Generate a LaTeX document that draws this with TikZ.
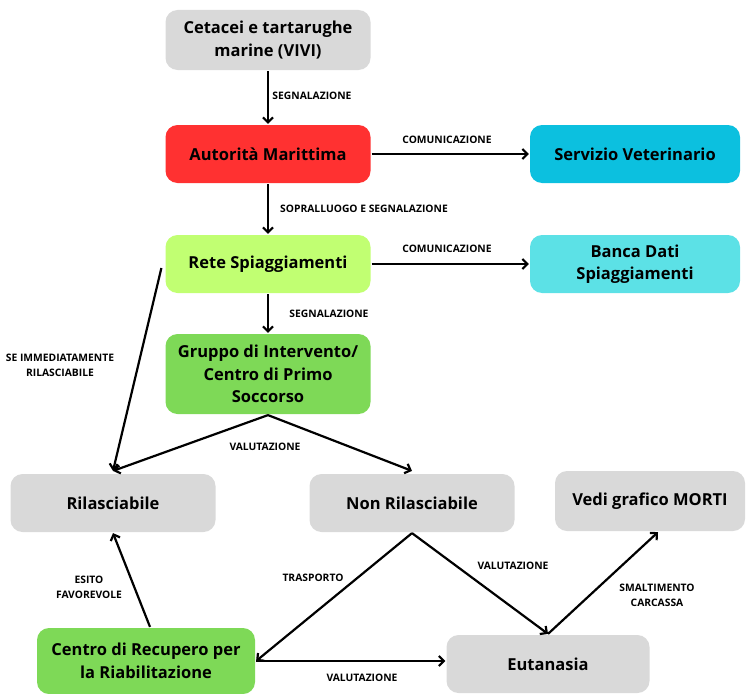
\documentclass[tikz,border=0pt]{standalone}
\usepackage{fontspec}
\setmainfont{Open Sans}
\usetikzlibrary{arrows.meta}
\definecolor{grau}{HTML}{D9D9D9}
\definecolor{rot}{HTML}{FF3131}
\definecolor{tuerkis}{HTML}{0CC0DF}
\definecolor{hellblau}{HTML}{5CE1E6}
\definecolor{hellgruen}{HTML}{C1FF72}
\definecolor{gruen}{HTML}{7ED957}

\begin{document}
\begin{tikzpicture}[x=1pt,y=-1pt,>={Straight Barb[length=5pt,width=10pt]},line width=2.2pt,
	box/.style={fill=grau,rounded corners=12pt,minimum width=205pt,minimum height=58pt,
		align=center,inner sep=2pt,font=\bfseries\fontsize{16.5}{22.5}\selectfont},
	lab/.style={align=center,font=\bfseries\fontsize{10.3}{15}\selectfont}]
\useasboundingbox (0,0) rectangle (746,693);
% Kaesten
\node[box,minimum height=60pt] (cet) at (268,40) {Cetacei e tartarughe\\marine (VIVI)};
\node[box,fill=rot] (aut) at (268,154) {Autorità Marittima};
\node[box,fill=tuerkis,minimum width=210pt] (vet) at (635,154) {Servizio Veterinario};
\node[box,fill=hellgruen] (rete) at (268,264) {Rete Spiaggiamenti};
\node[box,fill=hellblau,minimum width=210pt] (banca) at (635,264) {Banca Dati\\Spiaggiamenti};
\node[box,fill=gruen,minimum height=80pt] (grp) at (268,374) {Gruppo di Intervento/\\Centro di Primo\\Soccorso};
\node[box] (ril) at (113,503) {Rilasciabile};
\node[box] (non) at (412,503) {Non Rilasciabile};
\node[box,minimum width=190pt,minimum height=60pt] (morti) at (650,501) {Vedi grafico MORTI};
\node[box,fill=gruen,minimum width=218pt,minimum height=66pt] (rec) at (146,661) {Centro di Recupero per\\la Riabilitazione};
\node[box,minimum width=203pt] (eut) at (548,664) {Eutanasia};
% Pfeile
\draw[->] (cet) -- (aut);
\draw[->] (aut) -- (vet);
\draw[->] (aut) -- (rete);
\draw[->] (rete) -- (banca);
\draw[->] (rete) -- (grp);
\draw[->] ([shift={(-3,4)}]rete.west) -- ([yshift=2]ril.north);
\draw[->] (grp.south) -- ([yshift=2]ril.north);
\draw[->] (grp.south) -- ([yshift=2]non.north);
\draw[->] (non.south) -- (rec.east);
\draw[->] (non.south) -- (eut.north);
\draw[->] (eut.north) -- ([xshift=8]morti.south);
\draw[->] (rec.east) -- ([yshift=3]eut.west);
\draw[->] ([xshift=4]rec.north) -- (ril.south);
% Beschriftungen
\node[lab] (l1) at (312,96) {SEGNALAZIONE};
\node[lab] (l2) at (447,140) {COMUNICAZIONE};
\node[lab] (l3) at (364,209) {SOPRALLUOGO E SEGNALAZIONE};
\node[lab] (l4) at (447,249) {COMUNICAZIONE};
\node[lab] (l5) at (329,314) {SEGNALAZIONE};
\node[lab] (l6) at (60,365) {SE IMMEDIATAMENTE\\RILASCIABILE};
\node[lab] (l7) at (265,447) {VALUTAZIONE};
\node[lab] (l8) at (89,587) {ESITO\\FAVOREVOLE};
\node[lab] (l9) at (313,578) {TRASPORTO};
\node[lab] (l10) at (513,566) {VALUTAZIONE};
\node[lab] (l11) at (657,595) {SMALTIMENTO\\CARCASSA};
\node[lab] (l12) at (362,678) {VALUTAZIONE};
\end{tikzpicture}
\end{document}
